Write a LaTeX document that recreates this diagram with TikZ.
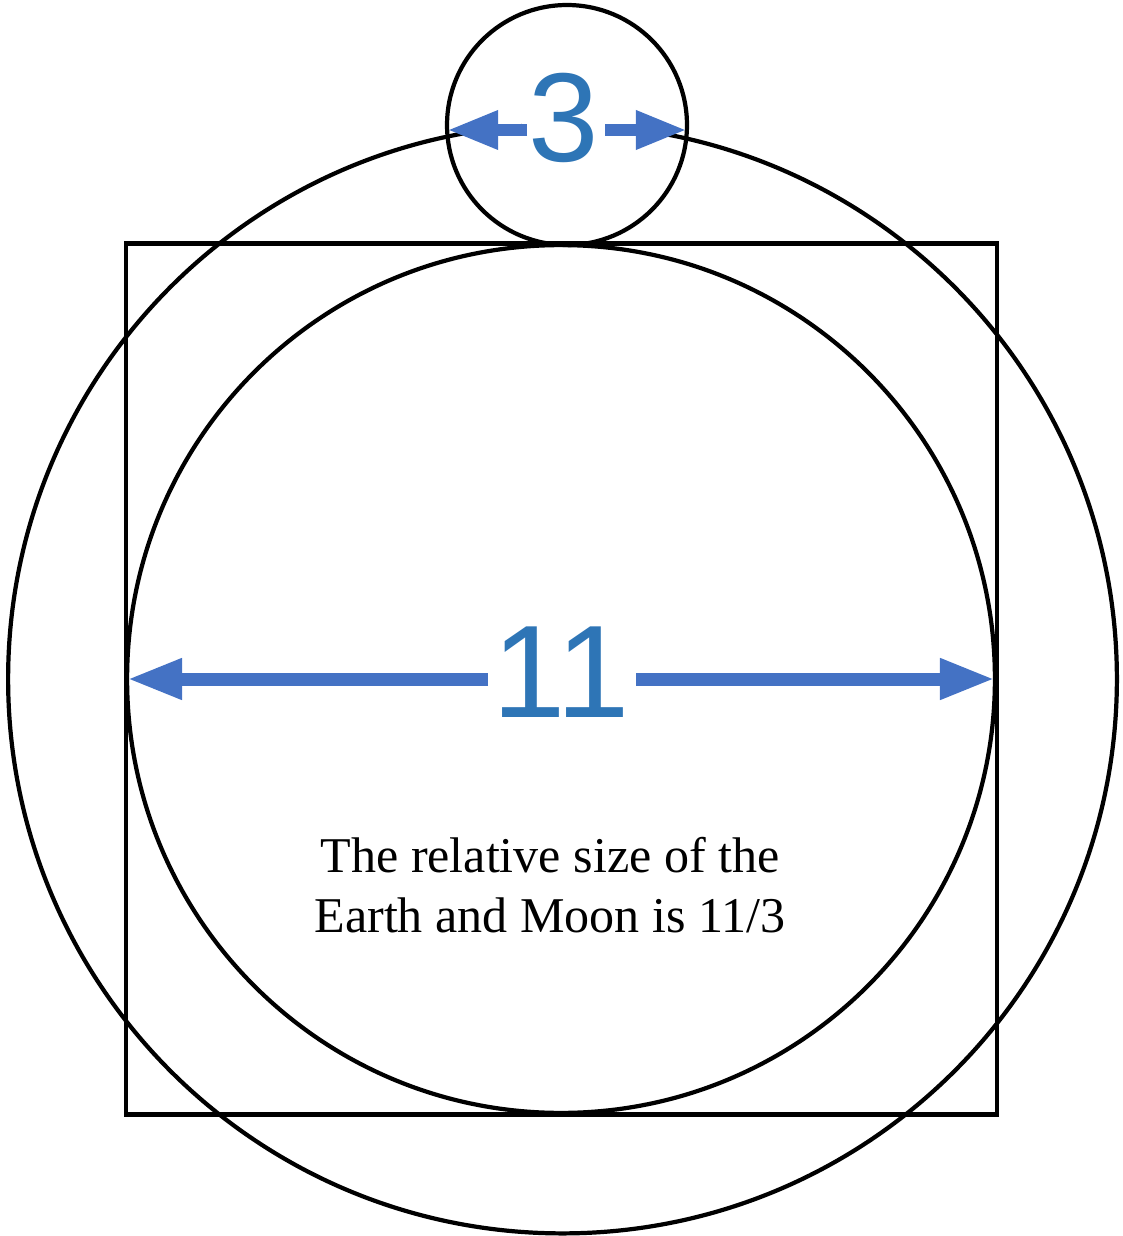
\documentclass[tikz,border=0pt]{standalone}
\usepackage{fontspec}
\setmainfont{Liberation Serif}
\newfontfamily\labelfont{Liberation Sans}
\usetikzlibrary{positioning, arrows.meta, calc}

\definecolor{numblue}{RGB}{46,117,182}
\definecolor{arrowblue}{RGB}{68,114,196}

\tikzset{
  ring/.style={circle, draw, line width=2.4pt, inner sep=0pt, outer sep=0pt},
  bignum/.style={text=numblue, inner sep=0pt, font=\labelfont\fontsize{75}{75}\selectfont},
  dim/.style={arrowblue, line width=7.4pt, -{Triangle[length=1.1cm, width=0.76cm]}},
  dimsmall/.style={arrowblue, line width=6.8pt, -{Triangle[length=1.02cm, width=0.72cm]}},
}

\begin{document}
\begin{tikzpicture}[x=0.02cm, y=-0.02cm]
\useasboundingbox (0,0) rectangle (1122,1236);

% Quadrat, Erde und Bahn
\node[draw, line width=2.4pt, minimum size=17.42cm, inner sep=0pt, outer sep=0pt] (box) at (561.5,679) {};
\node[ring, minimum size=17.36cm] (earth) at (561,679) {};
\node[ring, minimum size=22.18cm] (orbit) at (562.5,679) {};

% Mond
\node[ring, minimum size=4.8cm] (moon) at (567,125) {};

% Durchmesser der Erde
\node[bignum] (eleven) at (561,672) {11};
\coordinate (e1) at (488,679);
\coordinate (e2) at (636,679);
\draw[dim] (e1) -- (earth.west);
\draw[dim] (e2) -- (earth.east);

% Durchmesser des Mondes
\node[bignum, fill=white, inner xsep=4pt, font=\labelfont\fontsize{72}{72}\selectfont] (three) at (564,118) {3};
\coordinate (m1) at (527,130);
\coordinate (m2) at (605,130);
\draw[dimsmall] (m1) -- (moon.west |- m1);
\draw[dimsmall] (m2) -- (moon.east |- m2);

% Beschriftung
\node[anchor=north, inner sep=0pt, align=center, font=\fontsize{28.5}{34}\selectfont] (note) at (550,837)
  {The relative size of the\\Earth and Moon is 11/3};

\end{tikzpicture}
\end{document}
